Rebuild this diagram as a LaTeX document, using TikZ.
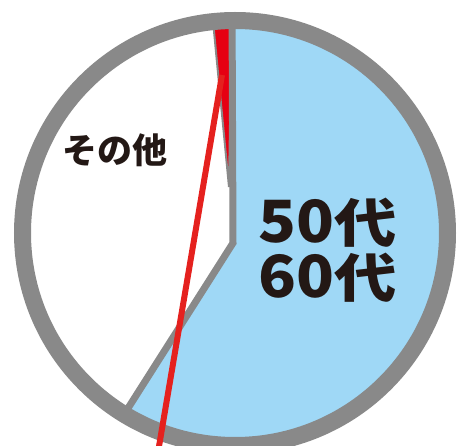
\documentclass[tikz,border=0pt]{standalone}
\usepackage{fontspec}
\newfontfamily\jpfont{Noto Sans CJK JP}
\usepackage{xcolor}
\usetikzlibrary{positioning,calc}

\definecolor{pieblue}{HTML}{9FD8F6}
\definecolor{piegray}{HTML}{898989}
\definecolor{piered}{HTML}{E60012}
\definecolor{markred}{HTML}{E5211E}
\definecolor{inkblack}{HTML}{231815}

\newcommand{\tallnum}[1]{\scalebox{1}[1.12]{#1}}

\begin{document}
\begin{tikzpicture}[
    x=1pt, y=-1pt,
    sep/.style={piegray, line width=7pt, line join=miter},
    ring/.style={piegray, line width=17pt},
    label/.style={inkblack, font=\jpfont\bfseries, inner sep=0pt, align=center}
]
    \useasboundingbox (0,0) rectangle (461,446);

    % Pie centre, rim centre
    \coordinate (hub) at (233,243);
    \coordinate (rim) at (235,233);
    \coordinate (top) at (232,0);
    \coordinate (cut) at (57,520);

    % Sectors
    \begin{scope}
        \clip (rim) circle (212.5);
        \fill[pieblue] (hub) -- (top) -- (480,-10) -- (480,520) -- (cut) -- cycle;
        \fill[piered, draw=piegray, line width=2pt] (229,187) -- (211,0) -- (232,0) -- cycle;
        \draw[sep] (top) -- (hub) -- (cut);
    \end{scope}

    % Rim
    \draw[ring] (rim) circle (212.5);

    % Marker line
    \coordinate (mark start) at (222,75);
    \coordinate (mark end) at (155,470);
    \draw[markred, line width=6pt] (mark start) -- (mark end);

    % Labels
    \node[label, font=\jpfont\bfseries\fontsize{35}{35}\selectfont] (other) at (115,150) {その他};
    \node[label, font=\jpfont\bfseries\fontsize{52}{55}\selectfont, xscale=1.2] (age) at (328,250) {\tallnum{50}代\\\tallnum{60}代};
\end{tikzpicture}
\end{document}
